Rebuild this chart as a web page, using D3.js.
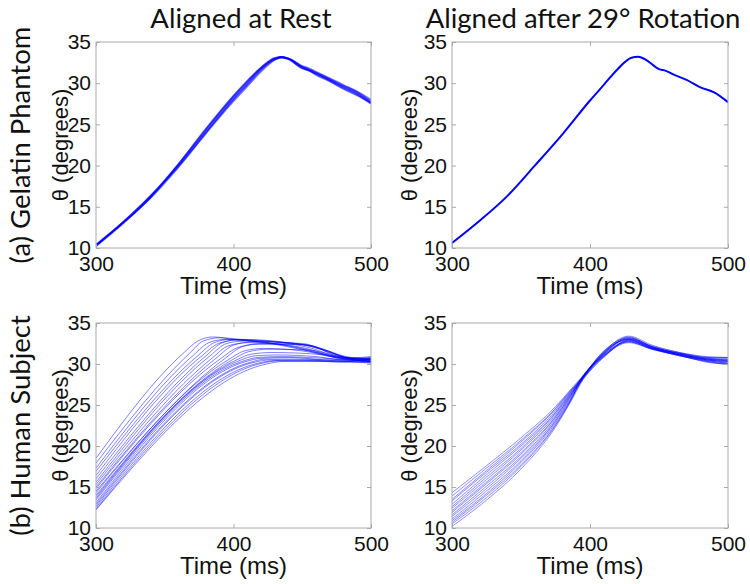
<!DOCTYPE html>
<html><head><meta charset="utf-8">
<script src="https://cdn.jsdelivr.net/npm/d3@7"></script>
<style>body{margin:0;background:#fff}svg{display:block}</style>
</head><body>
<svg id="c" width="750" height="584"></svg>
<script>
// ---------- data ----------
const xTicks = [300, 400, 500];
const yTicks = [10, 15, 20, 25, 30, 35];
const colTitles = ["Aligned at Rest", "Aligned after 29° Rotation"];
const rowLabels = ["(a) Gelatin Phantom", "(b) Human Subject"];
const xLabel = "Time (ms)";
const yLabel = "θ (degrees)";

const phantomTimes = [300,320,340,360,380,400,410,420,430,435,440,450,455,460,470,480,490,500];
const phantomRestTrials = [
  [10.3,13.1,16.3,20.1,24.3,28.3,30.1,31.8,33.0,33.2,33.0,31.9,31.6,31.2,30.4,29.5,28.7,27.6],
  [10.4,13.2,16.4,19.9,24.0,28.0,29.8,31.6,32.9,33.2,33.0,32.0,31.7,31.3,30.5,29.7,28.9,27.8],
  [10.2,13.0,16.2,20.2,24.5,28.5,30.3,31.9,33.0,33.1,32.9,31.8,31.5,31.1,30.3,29.4,28.6,27.5],
  [10.3,13.1,16.1,19.8,23.9,27.8,29.6,31.4,32.8,33.1,33.0,32.1,31.8,31.4,30.6,29.8,29.0,28.0],
  [10.3,13.2,16.4,20.2,24.4,28.4,30.2,31.9,33.1,33.2,32.9,31.8,31.5,31.0,30.2,29.3,28.5,27.6],
  [10.4,13.1,16.2,20.0,24.1,28.1,29.9,31.7,32.9,33.2,33.0,32.0,31.6,31.2,30.4,29.6,28.8,27.7]
];
const phantomRotated = [10.6,13.3,16.3,20.0,23.8,27.9,29.8,31.7,33.1,33.2,32.9,31.7,31.5,31.1,30.4,29.5,28.9,27.7];

const humanRestCurves = [
  [[300,18.5],[364,31.4],[374,32.8],[385,33.3],[400,33.0],[430,32.4],[460,31.4],[480,30.8],[500,30.6]],
  [[300,17.9],[368,31.3],[378,32.8],[390,33.2],[410,32.9],[440,32.2],[470,31.0],[500,30.5]],
  [[300,17.3],[371,31.1],[382,32.6],[394,33.0],[420,32.7],[450,31.9],[475,30.8],[500,30.3]],
  [[300,16.9],[374,31.0],[386,32.6],[398,33.0],[425,32.8],[455,32.0],[480,30.7],[500,30.5]],
  [[300,16.4],[377,31.0],[389,32.5],[402,32.9],[430,32.7],[460,32.1],[482,30.9],[500,30.6]],
  [[300,16.0],[380,31.0],[392,32.6],[405,33.0],[440,32.6],[465,31.8],[485,30.6],[500,30.4]],
  [[300,15.6],[383,31.0],[395,32.5],[408,32.8],[445,32.5],[468,31.6],[485,30.7],[500,30.8]],
  [[300,15.3],[385,30.8],[396,32.2],[410,32.6],[440,32.3],[470,31.2],[490,30.5],[500,30.4]],
  [[300,15.0],[388,30.8],[400,32.3],[415,32.7],[450,32.5],[472,31.3],[490,30.6],[500,30.7]],
  [[300,14.8],[391,30.7],[403,32.0],[418,32.4],[448,32.4],[470,31.4],[488,30.5],[500,30.3]],
  [[300,14.5],[394,30.7],[406,32.1],[420,32.5],[455,32.3],[475,31.0],[500,30.6]],
  [[300,14.3],[396,30.5],[408,31.6],[422,31.9],[450,31.6],[475,30.8],[500,30.5]],
  [[300,14.0],[399,30.5],[411,31.5],[425,31.8],[455,31.7],[478,30.7],[500,30.9]],
  [[300,13.8],[401,30.4],[413,31.2],[428,31.4],[460,31.2],[480,30.6],[500,30.2]],
  [[300,13.6],[404,30.4],[416,31.0],[432,31.1],[460,30.9],[485,30.4],[500,30.6]],
  [[300,13.4],[406,30.3],[418,30.8],[435,30.9],[465,30.7],[500,30.3]],
  [[300,13.1],[409,30.3],[420,30.7],[440,30.8],[470,30.5],[500,30.7]],
  [[300,12.9],[412,30.2],[424,30.6],[445,30.6],[475,30.4],[500,30.1]],
  [[300,12.7],[415,30.2],[427,30.5],[450,30.5],[480,30.3],[500,30.5]],
  [[300,12.5],[418,30.1],[430,30.4],[455,30.4],[480,30.2],[500,30.3]],
  [[300,12.3],[421,30.1],[433,30.4],[460,30.4],[500,30.2]],
  [[300,12.2],[424,30.0],[436,30.3],[465,30.3],[500,30.6]]
];

const humanRotTimes = [300,325,350,375,385,395,410,428,445,465,485,500];
const humanRotCurves = [
  [14.3,17.6,21.0,24.8,26.7,28.6,31.4,33.3,32.1,31.3,30.7,30.6],
  [13.9,17.3,20.7,24.6,26.6,28.4,31.0,32.8,31.9,31.1,30.4,30.1],
  [13.5,17.0,20.5,24.5,26.5,28.5,31.6,33.2,32.2,31.4,30.9,30.8],
  [13.3,16.8,20.2,24.3,26.4,28.3,30.9,32.7,31.8,31.0,30.3,29.9],
  [12.9,16.5,20.0,24.1,26.3,28.5,31.2,33.0,32.0,31.2,30.6,30.4],
  [12.6,16.2,19.7,24.0,26.2,28.4,31.5,33.4,32.3,31.4,30.8,30.7],
  [12.4,15.9,19.5,23.8,26.1,28.2,30.8,32.9,31.9,31.1,30.2,30.0],
  [12.1,15.6,19.2,23.6,26.0,28.5,31.3,33.1,32.1,31.3,30.7,30.5],
  [11.9,15.4,19.0,23.5,25.9,28.4,31.1,32.8,31.9,31.1,30.5,30.3],
  [11.6,15.1,18.7,23.3,25.8,28.3,31.4,33.0,32.0,31.2,30.6,30.5],
  [11.4,14.8,18.5,23.1,25.7,28.6,31.0,32.6,31.8,31.0,30.3,30.0],
  [11.1,14.5,18.2,23.0,25.5,28.2,31.2,33.2,32.1,31.2,30.5,30.2],
  [10.9,14.2,18.0,22.8,25.4,28.4,31.5,33.0,32.0,31.3,30.8,30.8],
  [10.7,14.0,17.7,22.6,25.3,28.5,30.9,32.9,31.9,31.0,30.4,30.1],
  [10.5,13.7,17.5,22.5,25.2,28.3,31.3,33.1,32.1,31.2,30.6,30.4],
  [10.2,13.4,17.2,22.3,25.1,28.1,31.1,32.7,31.8,31.1,30.5,30.3]
];

// ---------- layout ----------
const panels = [
  {x0:96,  x1:371, y0:42,  y1:248, ylabDx:-28},
  {x0:452, x1:728, y0:42,  y1:248, ylabDx:-35},
  {x0:96,  x1:371, y0:323, y1:528, ylabDx:-28},
  {x0:452, x1:728, y0:323, y1:528, ylabDx:-35}
];
const svg = d3.select("#c");
const tickFont = "'Liberation Sans', Arial, sans-serif";
const titleFont = "Lato, 'Open Sans', sans-serif";
const boxColor = "#a8a8a8";

const seriesSets = [
  phantomRestTrials.map(v => v.map((y,i) => [phantomTimes[i], y])),
  [phantomRotated.map((y,i) => [phantomTimes[i], y])],
  humanRestCurves,
  humanRotCurves.map(v => v.map((y,i) => [humanRotTimes[i], y]))
];
const lineStyles = [
  {w:1.6, op:0.55},
  {w:2.0, op:1.0},
  {w:1.0, op:0.5},
  {w:1.0, op:0.45}
];

panels.forEach((p, k) => {
  const x = d3.scaleLinear().domain([300, 500]).range([p.x0, p.x1]);
  const y = d3.scaleLinear().domain([10, 35]).range([p.y1, p.y0]);
  const g = svg.append("g");

  g.append("clipPath").attr("id", "clip" + k)
    .append("rect").attr("x", p.x0).attr("y", p.y0)
    .attr("width", p.x1 - p.x0).attr("height", p.y1 - p.y0);

  const line = d3.line().x(d => x(d[0])).y(d => y(d[1])).curve(d3.curveMonotoneX);
  g.append("g").attr("clip-path", `url(#clip${k})`)
    .selectAll("path").data(seriesSets[k]).join("path")
    .attr("d", line).attr("fill", "none")
    .attr("stroke", "#0000ff")
    .attr("stroke-width", lineStyles[k].w)
    .attr("stroke-opacity", lineStyles[k].op)
    .attr("stroke-linejoin", "round");

  // axes (MATLAB style: inward ticks, box)
  const ax = (sel) => {
    sel.selectAll(".domain").remove();
    sel.selectAll(".tick line").attr("stroke", boxColor);
    sel.selectAll("text").attr("fill", "#111")
      .style("font-family", tickFont).style("font-size", "21px");
  };
  g.append("g").attr("transform", `translate(0,${p.y1})`)
    .call(d3.axisBottom(x).tickValues(xTicks).tickSizeInner(-4).tickSizeOuter(0).tickPadding(8))
    .call(ax);
  g.append("g").attr("transform", `translate(0,${p.y0})`)
    .call(d3.axisTop(x).tickValues(xTicks).tickSizeInner(-4).tickSizeOuter(0).tickFormat(""))
    .call(ax);
  g.append("g").attr("transform", `translate(${p.x0},0)`)
    .call(d3.axisLeft(y).tickValues(yTicks).tickSizeInner(-4).tickSizeOuter(0).tickPadding(5))
    .call(ax);
  g.append("g").attr("transform", `translate(${p.x1},0)`)
    .call(d3.axisRight(y).tickValues(yTicks).tickSizeInner(-4).tickSizeOuter(0).tickFormat(""))
    .call(ax);

  g.append("rect").attr("x", p.x0).attr("y", p.y0)
    .attr("width", p.x1 - p.x0).attr("height", p.y1 - p.y0)
    .attr("fill", "none").attr("stroke", boxColor).attr("stroke-width", 1);

  // axis labels
  g.append("text").attr("x", (p.x0 + p.x1) / 2).attr("y", p.y1 + 46)
    .attr("text-anchor", "middle").attr("fill", "#111")
    .style("font-family", tickFont).style("font-size", "24px").text(xLabel);
  g.append("text")
    .attr("transform", `translate(${p.x0 + p.ylabDx},${(p.y0 + p.y1) / 2}) rotate(-90)`)
    .attr("text-anchor", "middle").attr("fill", "#111")
    .style("font-family", tickFont).style("font-size", "22px").text(yLabel);
});

// column titles
const titleX = [241, 583];
colTitles.forEach((t, i) => {
  svg.append("text").attr("x", titleX[i]).attr("y", 28)
    .attr("text-anchor", "middle").attr("fill", "#111")
    .style("font-family", titleFont).style("font-size", "27.5px").text(t);
});
// row labels
const rowY = [145, 425.5];
rowLabels.forEach((t, i) => {
  svg.append("text")
    .attr("transform", `translate(30,${rowY[i]}) rotate(-90)`)
    .attr("text-anchor", "middle").attr("fill", "#111")
    .style("font-family", titleFont).style("font-size", "27.5px").text(t);
});
</script>
</body></html>
